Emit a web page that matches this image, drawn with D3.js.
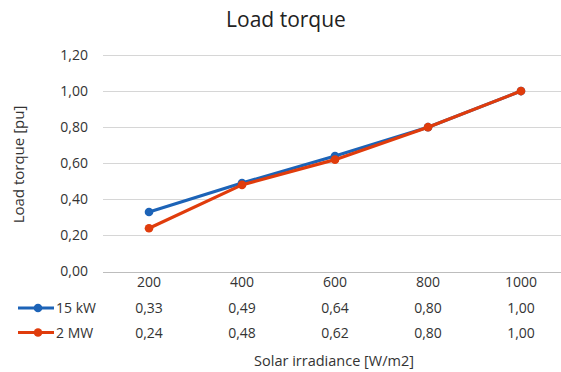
<!DOCTYPE html>
<html>
<head>
<meta charset="utf-8">
<script src="https://cdn.jsdelivr.net/npm/d3@7/dist/d3.min.js"></script>
<style>
  html, body { margin: 0; padding: 0; background: #fff; }
  svg { display: block; font-family: "Open Sans", "Noto Sans", sans-serif; }
</style>
</head>
<body>
<svg id="chart" width="561" height="372"></svg>
<script>
// Solar irradiance categories and load torque per system size
const categories = ["200", "400", "600", "800", "1000"];
const series15kW = [0.33, 0.49, 0.64, 0.80, 1.00];
const series2MW = [0.24, 0.48, 0.62, 0.80, 1.00];
const seriesNames = ["15 kW", "2 MW"];
const yTicks = [0, 0.2, 0.4, 0.6, 0.8, 1.0, 1.2];

const colors = ["#1c63b7", "#e03c0c"];
const seriesData = [series15kW, series2MW];
const textColor = "#333333";

const svg = d3.select("#chart");
const fmt = v => d3.format(".2f")(v).replace(".", ",");

const x = d3.scaleBand().domain(categories).range([102.5, 567.5]).padding(0);
const y = d3.scaleLinear().domain([0, 1.2]).range([271.5, 55]);
const cx = c => x(c) + x.bandwidth() / 2;

// Title
svg.append("text")
  .attr("x", 286).attr("y", 27)
  .attr("text-anchor", "middle")
  .attr("font-size", 21)
  .attr("fill", "#222")
  .text("Load torque");

// Value axis labels
const yAxis = d3.axisLeft(y).tickValues(yTicks).tickFormat(fmt).tickSize(0).tickPadding(0);
const gy = svg.append("g").attr("transform", "translate(88,0)").call(yAxis);
gy.select(".domain").remove();
gy.selectAll("text")
  .attr("font-size", 14)
  .attr("fill", textColor)
  .attr("font-family", "Open Sans, sans-serif")
  .attr("dy", "0.32em");

// Horizontal gridlines
svg.append("g").selectAll("line").data(yTicks).join("line")
  .attr("x1", 103).attr("x2", 561)
  .attr("y1", d => Math.round(y(d)) + 0.5).attr("y2", d => Math.round(y(d)) + 0.5)
  .attr("stroke", d => d === 0 ? "#bdbdbd" : "#d6d6d6")
  .attr("stroke-width", 1.2);

// Y axis title
svg.append("text")
  .attr("transform", "translate(24,164.5) rotate(-90)")
  .attr("text-anchor", "middle")
  .attr("font-size", 15)
  .attr("fill", textColor)
  .text("Load torque [pu]");

// Series lines and markers
const line = d3.line().x((d, i) => cx(categories[i])).y(d => y(d));
seriesData.forEach((vals, s) => {
  svg.append("path")
    .datum(vals)
    .attr("d", line)
    .attr("fill", "none")
    .attr("stroke", colors[s])
    .attr("stroke-width", 3.2)
    .attr("stroke-linejoin", "round");
  svg.append("g").selectAll("circle").data(vals).join("circle")
    .attr("cx", (d, i) => cx(categories[i]))
    .attr("cy", d => y(d))
    .attr("r", 4.3)
    .attr("fill", colors[s]);
});

// Data table: category row
svg.append("g").selectAll("text").data(categories).join("text")
  .attr("x", d => cx(d)).attr("y", 287)
  .attr("text-anchor", "middle")
  .attr("font-size", 14)
  .attr("fill", textColor)
  .text(d => d);

// Data table: series rows with legend keys
const rowY = [313, 337.5];
seriesData.forEach((vals, s) => {
  const ry = rowY[s];
  svg.append("line")
    .attr("x1", 18).attr("x2", 54)
    .attr("y1", ry - 5).attr("y2", ry - 5)
    .attr("stroke", colors[s]).attr("stroke-width", 3.2);
  svg.append("circle")
    .attr("cx", 38).attr("cy", ry - 5).attr("r", 4.3)
    .attr("fill", colors[s]);
  svg.append("text")
    .attr("x", 56).attr("y", ry)
    .attr("font-size", 14)
    .attr("fill", textColor)
    .text(seriesNames[s]);
  svg.append("g").selectAll("text").data(vals).join("text")
    .attr("x", (d, i) => cx(categories[i])).attr("y", ry)
    .attr("text-anchor", "middle")
    .attr("font-size", 14)
    .attr("fill", textColor)
    .text(d => fmt(d));
});

// X axis title
svg.append("text")
  .attr("x", 334).attr("y", 366)
  .attr("text-anchor", "middle")
  .attr("font-size", 14.5)
  .attr("fill", textColor)
  .text("Solar irradiance [W/m2]");
</script>
</body>
</html>
